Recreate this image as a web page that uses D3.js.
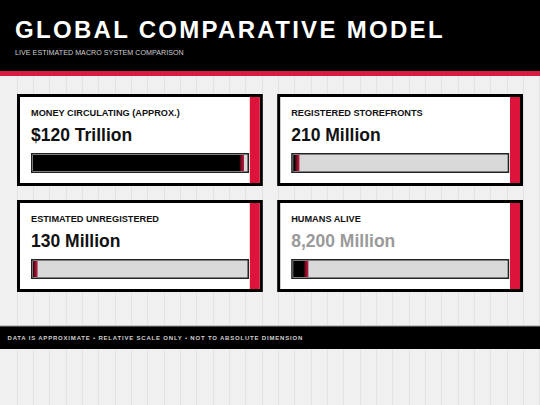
<!DOCTYPE html>
<html><head><meta charset="utf-8">
<script src="https://cdn.jsdelivr.net/npm/d3@7"></script>
<style>html,body{margin:0;padding:0;background:#f0f0f0;overflow:hidden}svg{display:block;font-family:"Liberation Sans",Arial,Helvetica,sans-serif}</style>
</head><body><div id="chart"></div>
<script>
const title = "GLOBAL COMPARATIVE MODEL";
const subtitle = "LIVE ESTIMATED MACRO SYSTEM COMPARISON";
const footnote = "DATA IS APPROXIMATE \u2022 RELATIVE SCALE ONLY \u2022 NOT TO ABSOLUTE DIMENSION";
const labels = ["MONEY CIRCULATING (APPROX.)", "REGISTERED STOREFRONTS", "ESTIMATED UNREGISTERED", "HUMANS ALIVE"];
const valueTexts = ["$120 Trillion", "210 Million", "130 Million", "8,200 Million"];
const relativeScale = [98.5, 2.8, 2.0, 7.0];
const muted = [false, false, false, true];

const W = 540, H = 405;
const svg = d3.select("#chart").append("svg").attr("width", W).attr("height", H);
const defs = svg.append("defs");
const g = defs.append("linearGradient").attr("id","mk").attr("x1","0").attr("x2","1");
g.append("stop").attr("offset","0").attr("stop-color","#4a0610");
g.append("stop").attr("offset","1").attr("stop-color","#c8173f");

// background grid
svg.append("rect").attr("width",W).attr("height",H).attr("fill","#f0f0f0");
const gridX = d3.range(16.67, W, 16.33);
svg.append("g").selectAll("line").data(gridX).join("line")
  .attr("x1",d=>Math.round(d)+0.5).attr("x2",d=>Math.round(d)+0.5).attr("y1",0).attr("y2",H)
  .attr("stroke","#e3e3e3").attr("stroke-width",1);

// header
svg.append("rect").attr("x",0).attr("y",0).attr("width",W).attr("height",71).attr("fill","#000");
svg.append("rect").attr("x",0).attr("y",71).attr("width",W).attr("height",5).attr("fill","#d91a40");
svg.append("text").attr("x",15).attr("y",37.5).text(title)
  .attr("fill","#fff").attr("font-weight","bold").attr("font-size",24).attr("letter-spacing",2.3);
svg.append("text").attr("x",15).attr("y",54.5).text(subtitle)
  .attr("fill","#cfcfcf").attr("font-size",7.1).attr("letter-spacing",0.05);

// cards
const col = d3.scaleBand().domain([0,1]).range([17,523]).paddingInner(14/253);
const row = d3.scaleBand().domain([0,1]).range([94,292]).paddingInner(14/106);
const cw = col.bandwidth(), ch = row.bandwidth();
const trackW = 218, trackH = 20;
const x = d3.scaleLinear().domain([0,100]).range([0, trackW-4]);

labels.forEach((lab,i)=>{
  const cx = col(i%2), cy = row(Math.floor(i/2));
  const c = svg.append("g").attr("transform",`translate(${cx},${cy})`);
  c.append("rect").attr("x",1.5).attr("y",1.5).attr("width",cw-3).attr("height",ch-3)
    .attr("fill","#fff").attr("stroke","#000").attr("stroke-width",3);
  c.append("rect").attr("x",cw-3-10).attr("y",3).attr("width",10).attr("height",ch-6).attr("fill","#dc143c");
  c.append("text").attr("x",14).attr("y",22.3).text(lab)
    .attr("font-weight","bold").attr("font-size",9.2).attr("fill","#111");
  c.append("text").attr("x",14).attr("y",47.3).text(valueTexts[i])
    .attr("font-weight","bold").attr("font-size",17.5).attr("fill",muted[i]?"#9a9a9a":"#111");
  const t = c.append("g").attr("transform",`translate(14,59)`);
  t.append("rect").attr("x",0.75).attr("y",0.75).attr("width",trackW-1.5).attr("height",trackH-1.5)
    .attr("fill","#d9d9d9").attr("stroke","#222").attr("stroke-width",1.5);
  const fw = x(relativeScale[i]);
  t.append("rect").attr("x",2).attr("y",2).attr("width",fw).attr("height",trackH-4).attr("fill","#000");
  t.append("rect").attr("x",2+Math.max(0,fw-4)).attr("y",2).attr("width",Math.min(4,fw)).attr("height",trackH-4).attr("fill","url(#mk)");
});

// footer
svg.append("rect").attr("x",0).attr("y",326).attr("width",W).attr("height",23).attr("fill","#000");
svg.append("line").attr("x1",0).attr("x2",W).attr("y1",326).attr("y2",326).attr("stroke","#9a9a9a").attr("stroke-width",1);
svg.append("text").attr("x",7.5).attr("y",339.5).text(footnote)
  .attr("fill","#d0d0d0").attr("font-weight","bold").attr("font-size",6).attr("letter-spacing",0.8);
</script></body></html>
